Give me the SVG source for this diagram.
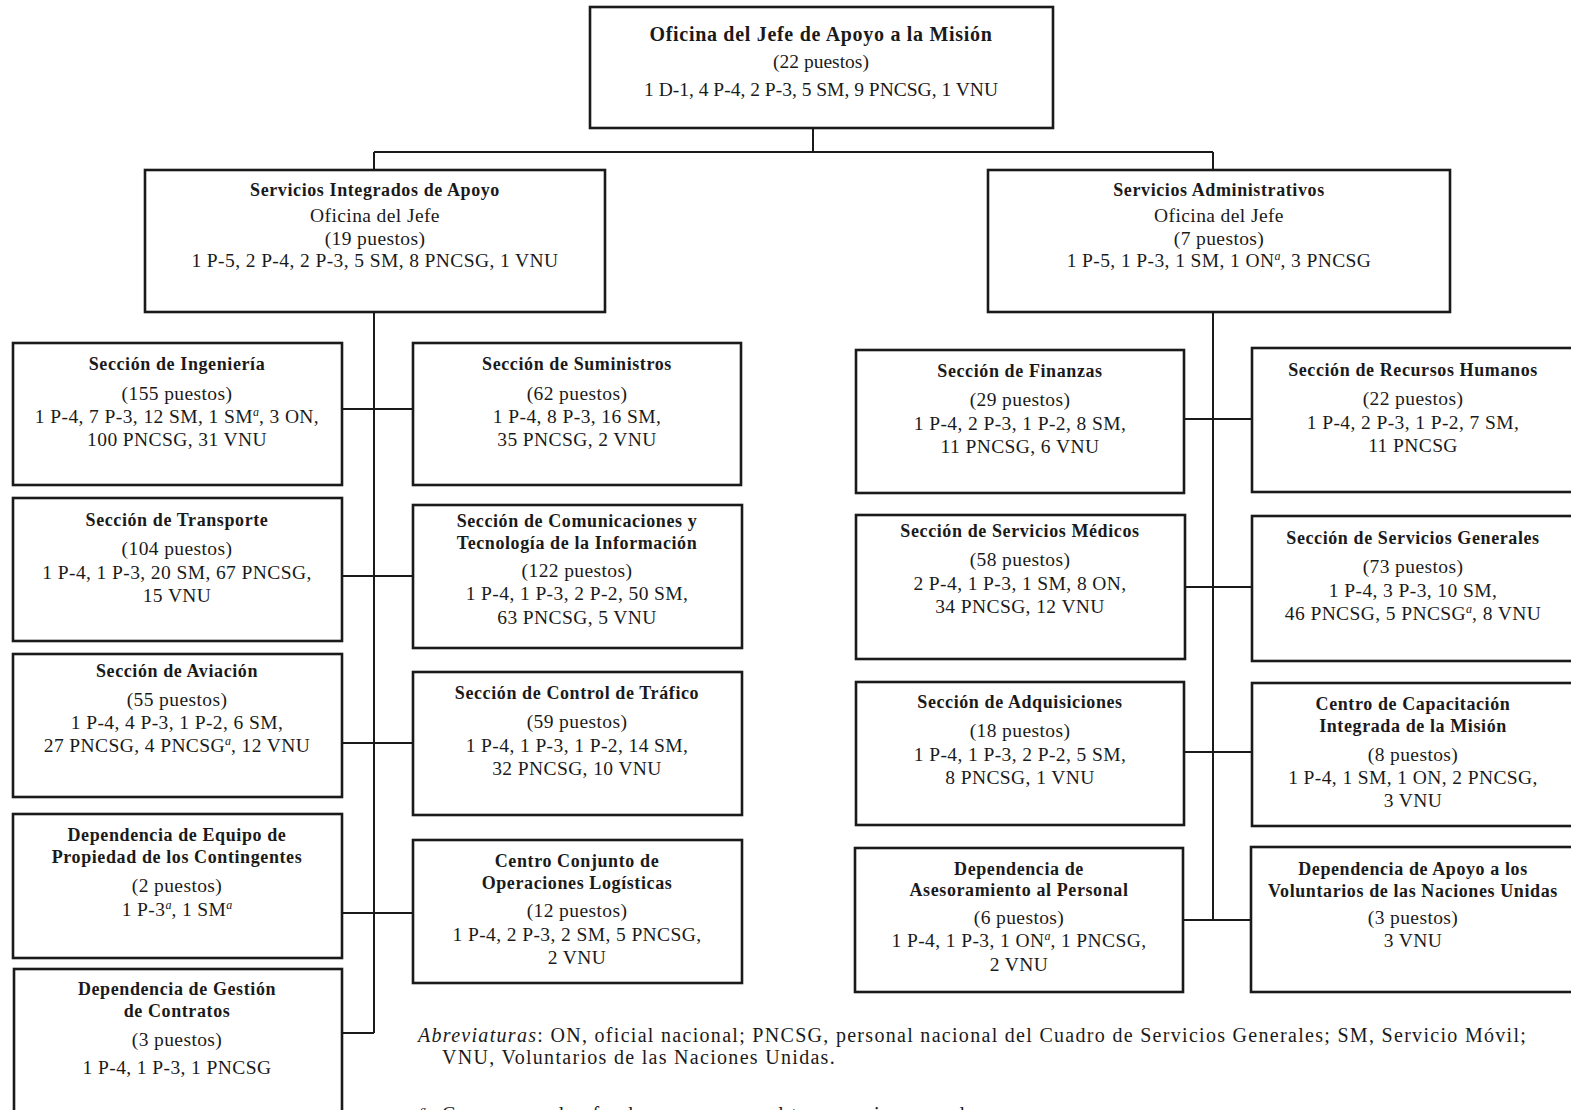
<svg xmlns="http://www.w3.org/2000/svg" width="1571" height="1110" viewBox="0 0 1571 1110">
  <style>
    .box { fill: #ffffff; stroke: #1a1a1a; stroke-width: 2.6; }
    .ln { fill: none; stroke: #1a1a1a; stroke-width: 2; }
    text { font-family: "Liberation Serif", "Times New Roman", serif; fill: #1a1a1a; }
    .t { font-size: 19.5px; text-anchor: middle; letter-spacing: 0.4px; }
    .t0 { letter-spacing: 0; }
    .h { font-size: 18px; font-weight: bold; text-anchor: middle; letter-spacing: 0.6px; }
    .hh { font-size: 20px; font-weight: bold; text-anchor: middle; letter-spacing: 0.7px; }
    .sup { font-size: 12px; font-style: italic; letter-spacing: 0; }
    .note { font-size: 20px; letter-spacing: 1.3px; }
    .it { font-style: italic; }
  </style>

  <rect width="1571" height="1110" fill="#ffffff"/>

  <!-- connectors -->
  <g id="connectors">
    <line class="ln" x1="813" y1="128" x2="813" y2="152"/>
    <line class="ln" x1="374" y1="152" x2="1213" y2="152"/>
    <line class="ln" x1="374" y1="152" x2="374" y2="170"/>
    <line class="ln" x1="1213" y1="152" x2="1213" y2="170"/>
    <line class="ln" x1="374" y1="312" x2="374" y2="1033"/>
    <line class="ln" x1="342" y1="409" x2="412" y2="409"/>
    <line class="ln" x1="342" y1="576" x2="412" y2="576"/>
    <line class="ln" x1="342" y1="743" x2="412" y2="743"/>
    <line class="ln" x1="342" y1="913" x2="412" y2="913"/>
    <line class="ln" x1="342" y1="1033" x2="374" y2="1033"/>
    <line class="ln" x1="1213" y1="312" x2="1213" y2="920"/>
    <line class="ln" x1="1184" y1="419" x2="1252" y2="419"/>
    <line class="ln" x1="1185" y1="587" x2="1252" y2="587"/>
    <line class="ln" x1="1184" y1="752" x2="1252" y2="752"/>
    <line class="ln" x1="1183" y1="920" x2="1252" y2="920"/>
  </g>

  <!-- top office -->
  <g id="jefe-apoyo">
    <rect class="box" x="590" y="7" width="463" height="121"/>
    <text class="hh" x="821" y="41">Oficina del Jefe de Apoyo a la Misión</text>
    <text class="t t0" x="821" y="68">(22 puestos)</text>
    <text class="t t0" x="821" y="96">1 D-1, 4 P-4, 2 P-3, 5 SM, 9 PNCSG, 1 VNU</text>
  </g>

  <!-- second level -->
  <g id="servicios-integrados">
    <rect class="box" x="145" y="170" width="460" height="142"/>
    <text class="h" x="375" y="196">Servicios Integrados de Apoyo</text>
    <text class="t" x="375" y="222">Oficina del Jefe</text>
    <text class="t" x="375" y="245">(19 puestos)</text>
    <text class="t" x="375" y="267">1 P-5, 2 P-4, 2 P-3, 5 SM, 8 PNCSG, 1 VNU</text>
  </g>

  <g id="servicios-administrativos">
    <rect class="box" x="988" y="170" width="462" height="142"/>
    <text class="h" x="1219" y="196">Servicios Administrativos</text>
    <text class="t" x="1219" y="222">Oficina del Jefe</text>
    <text class="t" x="1219" y="245">(7 puestos)</text>
    <text class="t" x="1219" y="267">1 P-5, 1 P-3, 1 SM, 1 ON<tspan class="sup" dy="-7">a</tspan><tspan dy="7">, 3 PNCSG</tspan></text>
  </g>

  <!-- integrated support: left column -->
  <g id="ingenieria">
    <rect class="box" x="13" y="343" width="329" height="142"/>
    <text class="h" x="177" y="370">Sección de Ingeniería</text>
    <text class="t" x="177" y="400">(155 puestos)</text>
    <text class="t" x="177" y="423">1 P-4, 7 P-3, 12 SM, 1 SM<tspan class="sup" dy="-7">a</tspan><tspan dy="7">, 3 ON,</tspan></text>
    <text class="t" x="177" y="446">100 PNCSG, 31 VNU</text>
  </g>

  <g id="transporte">
    <rect class="box" x="13" y="498" width="329" height="143"/>
    <text class="h" x="177" y="526">Sección de Transporte</text>
    <text class="t" x="177" y="555">(104 puestos)</text>
    <text class="t" x="177" y="579">1 P-4, 1 P-3, 20 SM, 67 PNCSG,</text>
    <text class="t" x="177" y="602">15 VNU</text>
  </g>

  <g id="aviacion">
    <rect class="box" x="13" y="654" width="329" height="143"/>
    <text class="h" x="177" y="677">Sección de Aviación</text>
    <text class="t" x="177" y="706">(55 puestos)</text>
    <text class="t" x="177" y="729">1 P-4, 4 P-3, 1 P-2, 6 SM,</text>
    <text class="t" x="177" y="752">27 PNCSG, 4 PNCSG<tspan class="sup" dy="-7">a</tspan><tspan dy="7">, 12 VNU</tspan></text>
  </g>

  <g id="equipo-contingentes">
    <rect class="box" x="13" y="814" width="329" height="144"/>
    <text class="h" x="177" y="841">Dependencia de Equipo de</text>
    <text class="h" x="177" y="863">Propiedad de los Contingentes</text>
    <text class="t" x="177" y="892">(2 puestos)</text>
    <text class="t" x="177" y="916">1 P-3<tspan class="sup" dy="-7">a</tspan><tspan dy="7">, 1 SM</tspan><tspan class="sup" dy="-7">a</tspan></text>
  </g>

  <g id="gestion-contratos">
    <rect class="box" x="14" y="969" width="328" height="151"/>
    <text class="h" x="177" y="995">Dependencia de Gestión</text>
    <text class="h" x="177" y="1017">de Contratos</text>
    <text class="t" x="177" y="1046">(3 puestos)</text>
    <text class="t" x="177" y="1074">1 P-4, 1 P-3, 1 PNCSG</text>
  </g>

  <!-- integrated support: right column -->
  <g id="suministros">
    <rect class="box" x="413" y="343" width="328" height="142"/>
    <text class="h" x="577" y="370">Sección de Suministros</text>
    <text class="t" x="577" y="400">(62 puestos)</text>
    <text class="t" x="577" y="423">1 P-4, 8 P-3, 16 SM,</text>
    <text class="t" x="577" y="446">35 PNCSG, 2 VNU</text>
  </g>

  <g id="comunicaciones">
    <rect class="box" x="413" y="505" width="329" height="143"/>
    <text class="h" x="577" y="527">Sección de Comunicaciones y</text>
    <text class="h" x="577" y="549">Tecnología de la Información</text>
    <text class="t" x="577" y="577">(122 puestos)</text>
    <text class="t" x="577" y="600">1 P-4, 1 P-3, 2 P-2, 50 SM,</text>
    <text class="t" x="577" y="624">63 PNCSG, 5 VNU</text>
  </g>

  <g id="control-trafico">
    <rect class="box" x="413" y="672" width="329" height="143"/>
    <text class="h" x="577" y="699">Sección de Control de Tráfico</text>
    <text class="t" x="577" y="728">(59 puestos)</text>
    <text class="t" x="577" y="752">1 P-4, 1 P-3, 1 P-2, 14 SM,</text>
    <text class="t" x="577" y="775">32 PNCSG, 10 VNU</text>
  </g>

  <g id="operaciones-logisticas">
    <rect class="box" x="413" y="840" width="329" height="143"/>
    <text class="h" x="577" y="867">Centro Conjunto de</text>
    <text class="h" x="577" y="889">Operaciones Logísticas</text>
    <text class="t" x="577" y="917">(12 puestos)</text>
    <text class="t" x="577" y="941">1 P-4, 2 P-3, 2 SM, 5 PNCSG,</text>
    <text class="t" x="577" y="964">2 VNU</text>
  </g>

  <!-- administrative services: left column -->
  <g id="finanzas">
    <rect class="box" x="856" y="350" width="328" height="143"/>
    <text class="h" x="1020" y="377">Sección de Finanzas</text>
    <text class="t" x="1020" y="406">(29 puestos)</text>
    <text class="t" x="1020" y="430">1 P-4, 2 P-3, 1 P-2, 8 SM,</text>
    <text class="t" x="1020" y="453">11 PNCSG, 6 VNU</text>
  </g>

  <g id="servicios-medicos">
    <rect class="box" x="856" y="515" width="329" height="144"/>
    <text class="h" x="1020" y="537">Sección de Servicios Médicos</text>
    <text class="t" x="1020" y="566">(58 puestos)</text>
    <text class="t" x="1020" y="590">2 P-4, 1 P-3, 1 SM, 8 ON,</text>
    <text class="t" x="1020" y="613">34 PNCSG, 12 VNU</text>
  </g>

  <g id="adquisiciones">
    <rect class="box" x="856" y="682" width="328" height="143"/>
    <text class="h" x="1020" y="708">Sección de Adquisiciones</text>
    <text class="t" x="1020" y="737">(18 puestos)</text>
    <text class="t" x="1020" y="761">1 P-4, 1 P-3, 2 P-2, 5 SM,</text>
    <text class="t" x="1020" y="784">8 PNCSG, 1 VNU</text>
  </g>

  <g id="asesoramiento-personal">
    <rect class="box" x="855" y="848" width="328" height="144"/>
    <text class="h" x="1019" y="875">Dependencia de</text>
    <text class="h" x="1019" y="896">Asesoramiento al Personal</text>
    <text class="t" x="1019" y="924">(6 puestos)</text>
    <text class="t" x="1019" y="947">1 P-4, 1 P-3, 1 ON<tspan class="sup" dy="-7">a</tspan><tspan dy="7">, 1 PNCSG,</tspan></text>
    <text class="t" x="1019" y="971">2 VNU</text>
  </g>

  <!-- administrative services: right column -->
  <g id="recursos-humanos">
    <rect class="box" x="1252" y="348" width="325" height="144"/>
    <text class="h" x="1413" y="376">Sección de Recursos Humanos</text>
    <text class="t" x="1413" y="405">(22 puestos)</text>
    <text class="t" x="1413" y="429">1 P-4, 2 P-3, 1 P-2, 7 SM,</text>
    <text class="t" x="1413" y="452">11 PNCSG</text>
  </g>

  <g id="servicios-generales">
    <rect class="box" x="1252" y="516" width="325" height="145"/>
    <text class="h" x="1413" y="544">Sección de Servicios Generales</text>
    <text class="t" x="1413" y="573">(73 puestos)</text>
    <text class="t" x="1413" y="597">1 P-4, 3 P-3, 10 SM,</text>
    <text class="t" x="1413" y="620">46 PNCSG, 5 PNCSG<tspan class="sup" dy="-7">a</tspan><tspan dy="7">, 8 VNU</tspan></text>
  </g>

  <g id="capacitacion">
    <rect class="box" x="1252" y="683" width="325" height="143"/>
    <text class="h" x="1413" y="710">Centro de Capacitación</text>
    <text class="h" x="1413" y="732">Integrada de la Misión</text>
    <text class="t" x="1413" y="761">(8 puestos)</text>
    <text class="t" x="1413" y="784">1 P-4, 1 SM, 1 ON, 2 PNCSG,</text>
    <text class="t" x="1413" y="807">3 VNU</text>
  </g>

  <g id="voluntarios">
    <rect class="box" x="1251" y="847" width="326" height="145"/>
    <text class="h" x="1413" y="875">Dependencia de Apoyo a los</text>
    <text class="h" x="1413" y="897">Voluntarios de las Naciones Unidas</text>
    <text class="t" x="1413" y="924">(3 puestos)</text>
    <text class="t" x="1413" y="947">3 VNU</text>
  </g>

  <!-- notes -->
  <g id="notes">
    <text class="note" x="418" y="1042"><tspan class="it">Abreviaturas</tspan>: ON, oficial nacional; PNCSG, personal nacional del Cuadro de Servicios Generales; SM, Servicio Móvil;</text>
    <text class="note" x="442" y="1064">VNU, Voluntarios de las Naciones Unidas.</text>
    <text class="note" x="420" y="1121"><tspan class="sup" dy="-7">a</tspan><tspan dy="7" dx="16">Con cargo a los fondos para personal temporario general.</tspan></text>
  </g>
</svg>
